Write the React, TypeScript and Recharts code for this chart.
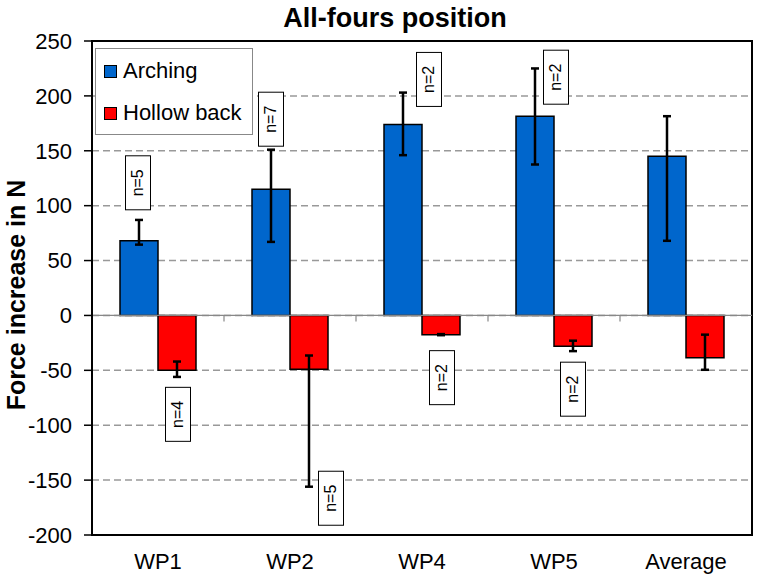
import React from "react";
import { BarChart, Bar, XAxis, YAxis, CartesianGrid, ErrorBar, LabelList, Legend, ReferenceLine, ReferenceArea } from "recharts";

const categories = ["WP1", "WP2", "WP4", "WP5", "Average"];
const arching = [68, 115, 174, 181.5, 145];
const archingErr = [[3.5, 19], [48, 36], [28, 29], [44, 43.5], [77, 36.5]];
const hollow = [-50, -49, -17.5, -28, -38.5];
const hollowErr = [[6, 8], [107, 12.5], [0.5, 0.5], [4.5, 5], [11, 21]];
const archingN = ["n=5", "n=7", "n=2", "n=2", ""];
const hollowN = ["n=4", "n=5", "n=2", "n=2", ""];
const yTicks = [-200, -150, -100, -50, 0, 50, 100, 150, 200, 250];

const data = categories.map((name, i) => ({
  name,
  arching: arching[i],
  archingErr: archingErr[i],
  archingN: archingN[i],
  hollow: hollow[i],
  hollowErr: hollowErr[i],
  hollowN: hollowN[i],
}));

// offsets of the n= boxes from the end of each bar, in px
const archingShift = [[-1, -58], [0, -70], [26, -45], [21, -39], [0, 0]];
const hollowShift = [[1, 44], [22, 129], [1, 43], [0, 43], [0, 0]];

const FONT = "'Liberation Sans', Arial, sans-serif";

const nBox = (shift: number[][], up: boolean) => (props: any) => {
  const { index, value } = props;
  if (!value) return null;
  const vb = props.viewBox || props;
  const x = Number(vb.x), y = Number(vb.y), w = Number(vb.width), h = Number(vb.height);
  const end = up ? Math.min(y, y + h) : Math.max(y, y + h);
  const cx = x + w / 2 + shift[index][0];
  const cy = end + shift[index][1];
  return (
    <g>
      <rect x={cx - 12.5} y={cy - 27} width={25} height={54} fill="#fff" stroke="#000" strokeWidth={1} />
      <text x={cx} y={cy} transform={`rotate(-90 ${cx} ${cy})`} textAnchor="middle" dominantBaseline="central" fontSize={16} fill="#000" fontFamily={FONT}>
        {value}
      </text>
    </g>
  );
};

// zero line with small ticks at the category boundaries
const ZeroLine = (props: any) => {
  const { x1, x2, y1 } = props;
  const step = (x2 - x1) / categories.length;
  return (
    <g>
      <line x1={x1} x2={x2} y1={y1} y2={y1} stroke="#888" strokeWidth={1.2} />
      {categories.slice(1).map((c, i) => (
        <line key={c} x1={x1 + step * (i + 1)} x2={x1 + step * (i + 1)} y1={y1} y2={y1 + 6} stroke="#888" strokeWidth={1.2} />
      ))}
    </g>
  );
};

const LegendBox = ({ payload }: any) => (
  <div style={{ position: "relative", width: 158, height: 87, boxSizing: "border-box", border: "1px solid #888", background: "#fff", fontFamily: FONT }}>
    {(payload || []).map((p: any, i: number) => (
      <div key={p.value} style={{ position: "absolute", left: 8, top: 8 + i * 42, height: 28, display: "flex", alignItems: "center" }}>
        <span style={{ display: "inline-block", width: 11, height: 11, background: p.color, border: "1px solid #000", marginRight: 6 }} />
        <span style={{ fontSize: 22, color: "#000" }}>{p.value}</span>
      </div>
    ))}
  </div>
);

const YLabel = () => (
  <text x={16} y={295} transform="rotate(-90 16 295)" textAnchor="middle" dominantBaseline="central" fontSize={25} fontWeight="bold" fill="#000" fontFamily={FONT}>
    Force increase in N
  </text>
);

export default function App() {
  return (
    <div style={{ position: "absolute", left: 0, top: 0, width: 759, height: 582, background: "#fff", fontFamily: FONT }}>
      <div style={{ position: "absolute", left: 0, top: 4.5, width: 790, textAlign: "center", fontSize: 27, lineHeight: "27px", fontWeight: "bold", color: "#000", zIndex: 2 }}>
        All-fours position
      </div>
      <BarChart width={759} height={582} data={data} margin={{ top: 41, right: 7, left: 0, bottom: 0 }} barGap={0}>
        <CartesianGrid vertical={false} stroke="#999" strokeDasharray="7 4" strokeWidth={1.5} />
        <XAxis dataKey="name" interval={0} axisLine={false} tickLine={false} tickSize={0} tickMargin={18} height={47} tick={{ fontSize: 22, fill: "#000" }} />
        <YAxis domain={[-200, 250]} ticks={yTicks} width={92} axisLine={{ stroke: "#000", strokeWidth: 2 }} tickLine={{ stroke: "#000", strokeWidth: 1.5 }} tickSize={8} tickMargin={12} tick={{ fontSize: 22, fill: "#000" }} label={{ content: YLabel }} />
        <ReferenceLine y={0} shape={ZeroLine} />
        <Bar dataKey="arching" name="Arching" fill="#0066CC" stroke="#000" strokeWidth={1.5} barSize={38} isAnimationActive={false}>
          <ErrorBar dataKey="archingErr" width={4} stroke="#000" strokeWidth={2.5} />
          <LabelList dataKey="archingN" content={nBox(archingShift, true)} />
        </Bar>
        <Bar dataKey="hollow" name="Hollow back" fill="#FF0000" stroke="#000" strokeWidth={1.5} barSize={38} isAnimationActive={false}>
          <ErrorBar dataKey="hollowErr" width={4} stroke="#000" strokeWidth={2.5} />
          <LabelList dataKey="hollowN" content={nBox(hollowShift, false)} />
        </Bar>
        <ReferenceArea y1={-200} y2={250} fill="none" stroke="#000" strokeWidth={2} />
        <Legend layout="vertical" align="center" verticalAlign="middle" content={LegendBox} wrapperStyle={{ left: 95, top: 48, width: 158, height: 87 }} />
      </BarChart>
    </div>
  );
}
